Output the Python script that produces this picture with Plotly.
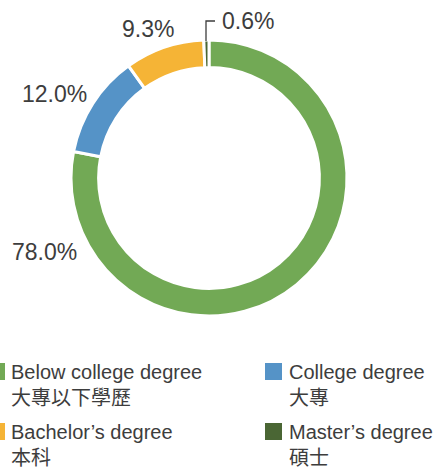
import plotly.graph_objects as go

W, H = 438, 469

categories_en = ["Below college degree", "College degree", "Bachelor\u2019s degree", "Master\u2019s degree"]
categories_zh = ["大專以下學歷", "大專", "本科", "碩士"]
values = [78.0, 12.0, 9.3, 0.6]
value_labels = ["78.0%", "12.0%", "9.3%", "0.6%"]
colors = ["#72a955", "#5593c7", "#f5b436", "#4a6634"]

FONT = "Liberation Sans, Arial, Noto Sans CJK TC, sans-serif"
TXT = "#3d3d3d"

def px(x):
    return x / W

def py(y):
    return 1 - y / H

fig = go.Figure()
fig.add_trace(go.Pie(
    values=values,
    labels=categories_en,
    marker=dict(colors=colors, line=dict(color="white", width=3)),
    hole=0.80,
    sort=False,
    direction="clockwise",
    rotation=0,
    textinfo="none",
    hoverinfo="label+percent",
    showlegend=False,
    domain=dict(x=[px(71), px(347)], y=[py(316), py(40)]),
))

# value labels (pixel positions of the label text centres)
label_pos = [(44, 252), (54, 94), (148, 29), (248, 21)]
annotations = []
for txt, (x, y) in zip(value_labels, label_pos):
    annotations.append(dict(x=px(x), y=py(y), xref="paper", yref="paper", text=txt,
                            showarrow=False, xanchor="center", yanchor="middle",
                            font=dict(family=FONT, size=23, color=TXT)))

shapes = [dict(type="path", xref="paper", yref="paper",
               path=f"M {px(206)} {py(41)} L {px(206)} {py(21)} L {px(215)} {py(21)}",
               line=dict(color=TXT, width=1.3))]

# legend built manually: two columns, two rows
leg_x = [(-12, 9), (265, 287)]
leg_y = [372, 432]
for i, (en, zh, c) in enumerate(zip(categories_en, categories_zh, colors)):
    col, row = i % 2, i // 2
    sx, tx = leg_x[col]
    ty = leg_y[row]
    shapes.append(dict(type="rect", xref="paper", yref="paper",
                       x0=px(sx), x1=px(sx + 17), y0=py(ty - 9), y1=py(ty + 8),
                       fillcolor=c, line=dict(width=0)))
    annotations.append(dict(x=px(tx), y=py(ty + 13), xref="paper", yref="paper",
                            text=f"{en}<br>{zh}", showarrow=False, align="left",
                            xanchor="left", yanchor="middle",
                            font=dict(family=FONT, size=20, color=TXT)))

fig.update_layout(
    width=W, height=H,
    margin=dict(l=0, r=0, t=0, b=0),
    paper_bgcolor="white", plot_bgcolor="white",
    annotations=annotations, shapes=shapes,
    font=dict(family=FONT, color=TXT),
)
fig.write_html("out.html", config={"displayModeBar": False},
               post_script="document.body.style.margin='0';document.body.style.overflow='hidden';")
